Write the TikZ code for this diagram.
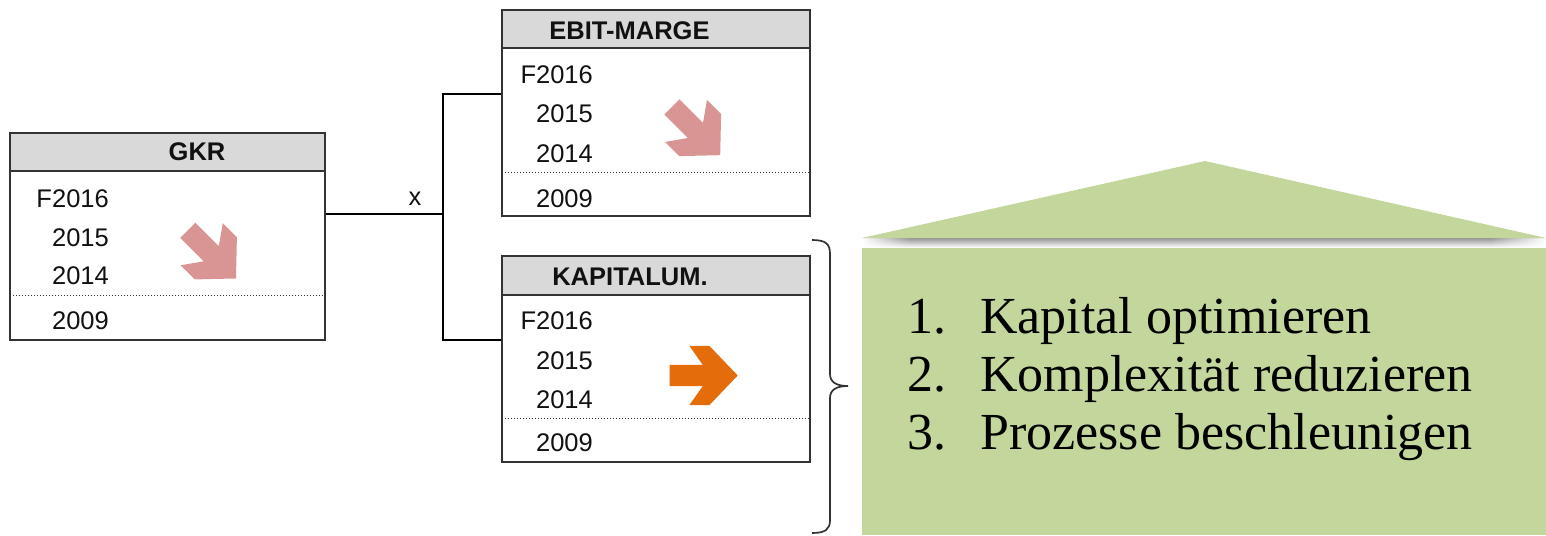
\documentclass[tikz,border=0pt]{standalone}
\usepackage{fontspec}
\setmainfont{Liberation Serif}
\newfontfamily\arialfont{Liberation Sans}
\usetikzlibrary{calc,fadings}

\definecolor{framegray}{HTML}{333333}
\definecolor{headgray}{HTML}{D9D9D9}
\definecolor{trendpink}{HTML}{D99594}
\definecolor{trendorange}{HTML}{E46C0A}
\definecolor{roofgreen}{HTML}{C3D69B}
\definecolor{inkblack}{HTML}{111111}

\tikzset{
  kpiframe/.style={draw=framegray, line width=1.9pt, inner sep=0pt},
  headfill/.style={fill=headgray, draw=framegray, line width=1.9pt},
  sepline/.style={draw=framegray, line width=1pt, dotted},
  headtext/.style={font=\arialfont\bfseries\fontsize{25.5}{30}\selectfont, inner sep=0pt, text=inkblack},
  yeartext/.style={font=\arialfont\fontsize{25.5}{30}\selectfont, anchor=east, inner sep=0pt, text=inkblack},
  link/.style={draw=black, line width=1.6pt},
  bracestroke/.style={draw=framegray, line width=1.7pt},
  goaltext/.style={font=\fontsize{52}{58}\selectfont, anchor=base west, inner sep=0pt, text=black},
  trendarrow/.pic={
    \fill[pic actions] (-34,10.7) -- (-0.8,10.7) -- (-14.2,29.7) -- (5.8,29.7)
      -- (34.2,0) -- (5.8,-29.7) -- (-14.2,-29.7) -- (-0.8,-10.7) -- (-34,-10.7) -- cycle;
  }
}

\begin{document}
\begin{tikzpicture}[x=1pt, y=-1pt]
\useasboundingbox (0,0) rectangle (1546,535);

% ---------- GKR table ----------
\path[headfill] (10,133) rectangle (325,171);
\node[headtext] (gkrhead) at (197,152) {GKR};
\node[yeartext] (gkr16) at (109,199) {F2016};
\node[yeartext] (gkr15) at (109,238) {2015};
\node[yeartext] (gkr14) at (109,276) {2014};
\path[sepline] (10,295) -- (325,295);
\node[yeartext] (gkr09) at (109,321) {2009};
\node[kpiframe, minimum width=315pt, minimum height=207pt] (gkr) at (167.5,236.5) {};
\pic[fill=trendpink, rotate=-45] at (211.8,254.3) {trendarrow};

% ---------- EBIT-MARGE table ----------
\path[headfill] (502,10) rectangle (810,48);
\node[headtext] (ebithead) at (629.5,31) {EBIT-MARGE};
\node[yeartext] (ebit16) at (593,75) {F2016};
\node[yeartext] (ebit15) at (593,114) {2015};
\node[yeartext] (ebit14) at (593,154) {2014};
\path[sepline] (502,172) -- (810,172);
\node[yeartext] (ebit09) at (593,199) {2009};
\node[kpiframe, minimum width=308pt, minimum height=206pt] (ebit) at (656,113) {};
\pic[fill=trendpink, rotate=-45] at (696,131) {trendarrow};

% ---------- KAPITALUM. table ----------
\path[headfill] (502,256) rectangle (810,295);
\node[headtext] (kaphead) at (630,277) {KAPITALUM.};
\node[yeartext] (kap16) at (593,321) {F2016};
\node[yeartext] (kap15) at (593,361) {2015};
\node[yeartext] (kap14) at (593,400) {2014};
\path[sepline] (502,418) -- (810,418);
\node[yeartext] (kap09) at (593,443) {2009};
\node[kpiframe, minimum width=308pt, minimum height=206pt] (kap) at (656,359) {};
\pic[fill=trendorange] at (703.5,375.5) {trendarrow};

% ---------- product connector ----------
\coordinate (split) at (443,214);
\coordinate (jtop) at (443,94);
\coordinate (jbot) at (443,340);
\draw[link] (gkr.east |- split) -- (split);
\draw[link] (ebit.west |- jtop) -- (jtop) -- (jbot) -- (kap.west |- jbot);
\node[font=\arialfont\fontsize{25.5}{30}\selectfont, inner sep=0pt, text=inkblack] (times) at (415,199) {x};

% ---------- curly brace ----------
\draw[bracestroke] (812,240) .. controls (826,240) and (830,244) .. (830,254)
  -- (830,374) .. controls (830,382) and (836,386) .. (848,386)
  .. controls (836,386) and (830,390) .. (830,398)
  -- (830,520) .. controls (830,529) and (826,533) .. (812,533);

% ---------- goals house ----------
% soft shadow under the roof
\shade[top color=black!42, bottom color=white] (862,238) rectangle (1546,247.5);
\fill[white, path fading=east] (862,237) rectangle (910,248);
\fill[white, path fading=west] (1490,237) rectangle (1546,248);
\fill[roofgreen] (862,238) -- (1205,161) -- (1546,238) -- cycle;
\fill[roofgreen] (862,248) rectangle (1546,535);
\node[goaltext] (n1) at (907,333) {1.};
\node[goaltext] (t1) at (980,333) {Kapital optimieren};
\node[goaltext] (n2) at (907,391) {2.};
\node[goaltext] (t2) at (980,391) {Komplexität reduzieren};
\node[goaltext] (n3) at (907,449) {3.};
\node[goaltext] (t3) at (980,449) {Prozesse beschleunigen};
\end{tikzpicture}
\end{document}
